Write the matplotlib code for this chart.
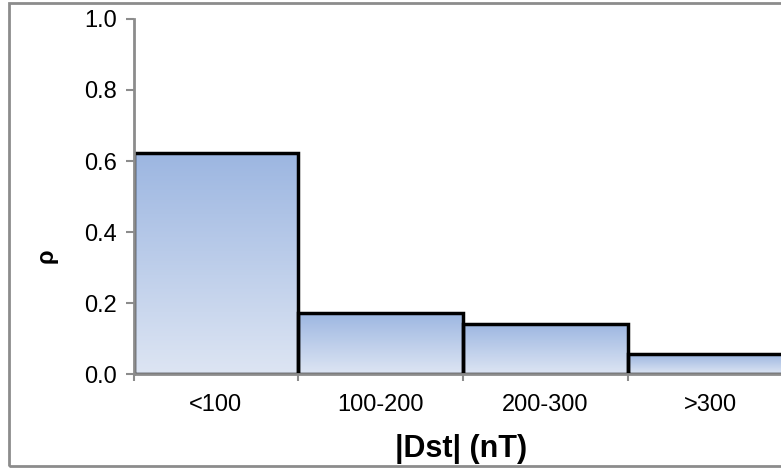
import numpy as np
import matplotlib
matplotlib.use("Agg")
import matplotlib.pyplot as plt
from matplotlib.patches import Rectangle
from matplotlib.colors import LinearSegmentedColormap

# ---------- data ----------
categories = ["<100", "100-200", "200-300", ">300"]
fractions = [0.623, 0.172, 0.141, 0.056]
y_ticks = [0.0, 0.2, 0.4, 0.6, 0.8, 1.0]

plt.rcParams["font.family"] = ["Liberation Sans", "DejaVu Sans"]

fig = plt.figure(figsize=(7.81, 4.68), dpi=100)

# outer frame around the chart area (runs off the right edge)
fig.patches.append(Rectangle((9 / 781, 2 / 468), 1.2, 463 / 468,
                             transform=fig.transFigure, fill=False,
                             edgecolor="#8c8c8c", linewidth=2.0, zorder=0))

ax = fig.add_axes([0.171, 0.2002, 0.8437, 0.7596])

# vertical gradient, dark blue at the top, pale at the bottom
cmap = LinearSegmentedColormap.from_list("grad", ["#dde5f3", "#9cb6e1"])
grad = np.linspace(0, 1, 256).reshape(-1, 1)

for i, v in enumerate(fractions):
    rect = Rectangle((i, 0), 1, v, facecolor="none", edgecolor="none")
    ax.add_patch(rect)
    im = ax.imshow(grad, extent=(i, i + 1, 0, v), origin="lower",
                   cmap=cmap, aspect="auto", zorder=1)
    im.set_clip_path(rect)
    ax.add_patch(Rectangle((i, 0), 1, v, facecolor="none",
                           edgecolor="black", linewidth=2.5, zorder=2,
                           joinstyle="miter"))
ax.set_xlim(0, 4)
ax.set_ylim(0, 1.0)

for s in ["top", "right"]:
    ax.spines[s].set_visible(False)
for s in ["left", "bottom"]:
    ax.spines[s].set_color("#8c8c8c")
    ax.spines[s].set_linewidth(2.0)
    ax.spines[s].set_zorder(3)

ax.set_yticks(y_ticks)
ax.set_yticklabels([f"{t:.1f}" for t in y_ticks], fontsize=17)
ax.set_xticks([0, 1, 2, 3, 4])
ax.set_xticklabels([])
ax.set_xticks([0.5, 1.5, 2.5, 3.5], minor=True)
ax.set_xticklabels(categories, minor=True, fontsize=17)
ax.tick_params(axis="x", which="minor", length=0, pad=14)
ax.tick_params(axis="x", which="major", length=5, width=1.5, color="#8c8c8c")
ax.tick_params(axis="y", length=6, width=1.5, color="#8c8c8c", pad=6)

fig.text(461 / 781, 1 - 449 / 468, "|Dst| (nT)", fontsize=22,
         fontweight="bold", ha="center", va="center")
fig.text(46 / 781, 1 - 256 / 468, "ρ", rotation=90, fontsize=17,
         fontweight="bold", ha="center", va="center")

fig.savefig("out.png", dpi=100)
